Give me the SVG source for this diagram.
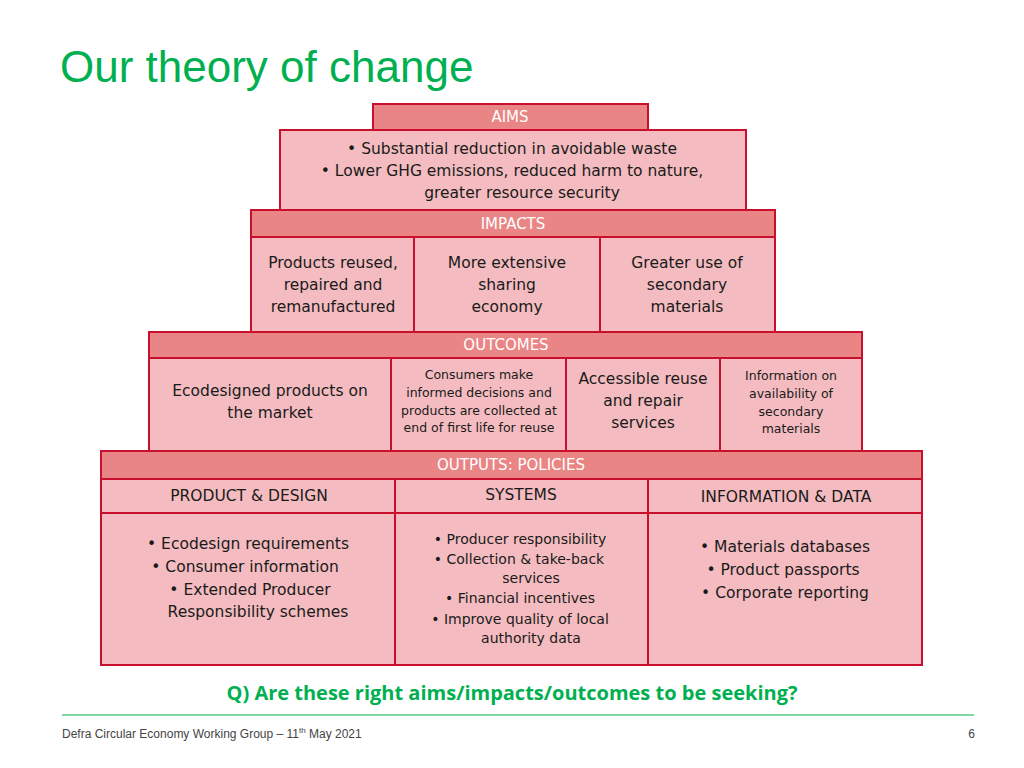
<svg xmlns="http://www.w3.org/2000/svg" width="1024" height="768" viewBox="0 0 1024 768">
<style>
.h{fill:#e98585;stroke:#c8102e;stroke-width:2}
.c{fill:#f4bcc0;stroke:#c8102e;stroke-width:2}
.ht{font-family:"DejaVu Sans",sans-serif;font-size:15px;fill:#fff;text-anchor:middle}
.t{font-family:"DejaVu Sans",sans-serif;font-size:15.5px;fill:#1a1a1a;text-anchor:middle}
.s{font-family:"DejaVu Sans",sans-serif;font-size:12.5px;fill:#1a1a1a;text-anchor:middle}
.m{font-family:"DejaVu Sans",sans-serif;font-size:14px;fill:#1a1a1a;text-anchor:middle}
</style>
<rect width="1024" height="768" fill="#fff"/>
<text x="60" y="82" font-family="Liberation Sans,sans-serif" font-size="44" fill="#00b050">Our theory of change</text>
<g id="aims">
<rect class="h" x="373" y="104" width="275" height="26"/>
<text class="ht" x="510" y="122">AIMS</text>
<rect class="c" x="280" y="130" width="466" height="80"/>
<text class="t" x="512" y="154">• Substantial reduction in avoidable waste</text>
<text class="t" x="512" y="176">• Lower GHG emissions, reduced harm to nature,</text>
<text class="t" x="522" y="198">greater resource security</text>
</g>
<g id="impacts">
<rect class="h" x="251" y="210" width="524" height="27"/>
<text class="ht" x="513" y="229">IMPACTS</text>
<rect class="c" x="251" y="237" width="163" height="95"/>
<rect class="c" x="414" y="237" width="186" height="95"/>
<rect class="c" x="600" y="237" width="175" height="95"/>
<text class="t" x="333" y="268">Products reused,</text><text class="t" x="333" y="290">repaired and</text><text class="t" x="333" y="312">remanufactured</text>
<text class="t" x="507" y="268">More extensive</text><text class="t" x="507" y="290">sharing</text><text class="t" x="507" y="312">economy</text>
<text class="t" x="687" y="268">Greater use of</text><text class="t" x="687" y="290">secondary</text><text class="t" x="687" y="312">materials</text>
</g>
<g id="outcomes">
<rect class="h" x="149" y="332" width="713" height="26"/>
<text class="ht" x="506" y="350">OUTCOMES</text>
<rect class="c" x="149" y="358" width="242" height="93"/>
<rect class="c" x="391" y="358" width="175" height="93"/>
<rect class="c" x="566" y="358" width="154" height="93"/>
<rect class="c" x="720" y="358" width="142" height="93"/>
<text class="t" x="270" y="396">Ecodesigned products on</text><text class="t" x="270" y="418">the market</text>
<text class="s" x="479" y="379">Consumers make</text><text class="s" x="479" y="397">informed decisions and</text><text class="s" x="479" y="415">products are collected at</text><text class="s" x="479" y="432">end of first life for reuse</text>
<text class="t" x="643" y="384">Accessible reuse</text><text class="t" x="643" y="406">and repair</text><text class="t" x="643" y="428">services</text>
<text class="s" x="791" y="380">Information on</text><text class="s" x="791" y="398">availability of</text><text class="s" x="791" y="416">secondary</text><text class="s" x="791" y="433">materials</text>
</g>
<g id="outputs">
<rect class="h" x="101" y="451" width="821" height="28"/>
<text class="ht" x="511" y="470">OUTPUTS: POLICIES</text>
<rect class="c" x="101" y="479" width="294" height="34"/>
<rect class="c" x="395" y="479" width="253" height="34"/>
<rect class="c" x="648" y="479" width="274" height="34"/>
<text class="t" x="249" y="501">PRODUCT &amp; DESIGN</text>
<text class="t" x="521" y="500">SYSTEMS</text>
<text class="t" x="786" y="502">INFORMATION &amp; DATA</text>
<rect class="c" x="101" y="513" width="294" height="152"/>
<rect class="c" x="395" y="513" width="253" height="152"/>
<rect class="c" x="648" y="513" width="274" height="152"/>
<text class="t" x="248" y="549">• Ecodesign requirements</text>
<text class="t" x="245" y="572">• Consumer information</text>
<text class="t" x="250" y="595">• Extended Producer</text>
<text class="t" x="258" y="617">Responsibility schemes</text>
<text class="m" x="520" y="544">• Producer responsibility</text>
<text class="m" x="519" y="564">• Collection &amp; take-back</text>
<text class="m" x="531" y="583">services</text>
<text class="m" x="520" y="603">• Financial incentives</text>
<text class="m" x="520" y="624">• Improve quality of local</text>
<text class="m" x="531" y="643">authority data</text>
<text class="t" x="785" y="552">• Materials databases</text>
<text class="t" x="783" y="575">• Product passports</text>
<text class="t" x="785" y="598">• Corporate reporting</text>
</g>
<text x="512" y="700" text-anchor="middle" font-family="Open Sans,sans-serif" font-weight="bold" font-size="20" fill="#00b050">Q) Are these right aims/impacts/outcomes to be seeking?</text>
<line x1="62" y1="715" x2="974" y2="715" stroke="#00b050" stroke-width="1"/>
<text x="62" y="738" font-family="Liberation Sans,sans-serif" font-size="12" fill="#444">Defra Circular Economy Working Group – 11<tspan font-size="8" dy="-5">th</tspan><tspan dy="5"> May 2021</tspan></text>
<text x="975" y="738" text-anchor="end" font-family="Liberation Sans,sans-serif" font-size="12" fill="#444">6</text>
</svg>
